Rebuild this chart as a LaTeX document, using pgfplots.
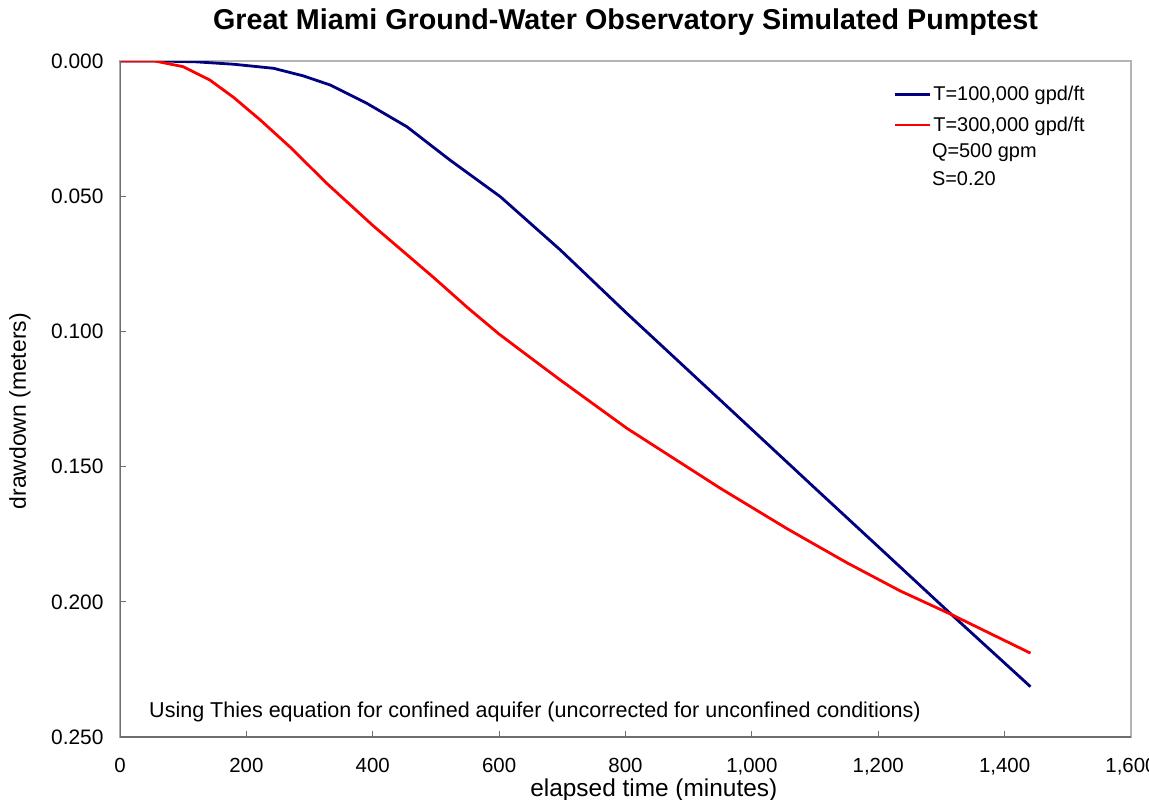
\documentclass[border=0pt]{standalone}
\usepackage{pgfplots}
\pgfplotsset{compat=1.18}
\usepackage{fontspec}
\setmainfont{Liberation Sans}
\definecolor{navyline}{RGB}{0,0,128}
\definecolor{redline}{RGB}{255,0,0}
\definecolor{boxgray}{RGB}{180,180,180}
\definecolor{axgray}{RGB}{110,110,110}
\begin{document}
\begin{tikzpicture}
\begin{axis}[name=ax, scale only axis, width=1011bp, height=676bp,
  xmin=0, xmax=1600, ymin=0, ymax=0.25, y dir=reverse,
  xtick={0,200,400,600,800,1000,1200,1400,1600},
  ytick={0,0.05,0.1,0.15,0.2,0.25},
  /pgf/number format/assume math mode=true,
  xticklabel style={/pgf/number format/1000 sep={,}, font=\fontsize{20.5}{23}\selectfont, yshift=-18bp},
  yticklabel style={/pgf/number format/fixed, /pgf/number format/fixed zerofill, /pgf/number format/precision=3, font=\fontsize{21}{24}\selectfont, xshift=-13bp},
  scaled y ticks=false,
  tick align=inside, xtick pos=bottom, ytick pos=left,
  major tick length=6bp,
  tick style={axgray, line width=1bp},
  axis line style={boxgray, line width=1.5bp},
  title={Great Miami Ground-Water Observatory Simulated Pumptest},
  title style={font=\bfseries\fontsize{28.8}{32}\selectfont, at={(axis description cs:0.5,1)}, anchor=center, yshift=33bp},
  xlabel={elapsed time (minutes)},
  xlabel style={font=\fontsize{24.5}{27}\selectfont, at={(axis description cs:0.528,0)}, anchor=center, yshift=-53bp},
  ylabel={drawdown (meters)},
  ylabel style={font=\fontsize{23}{26}\selectfont, at={(axis description cs:-0.099,0.482)}, anchor=center},
  legend style={draw=none, fill=none, at={(axis description cs:0.765,0.966)}, anchor=north west, font=\fontsize{20}{23}\selectfont, row sep=11bp, inner sep=0pt},
  legend cell align=left,
  legend image code/.code={\draw[#1] (0bp,0bp) -- (35bp,0bp);},
]
\addplot[navyline, line width=2.8bp] coordinates {
(0,0) (60,0) (120,0.0003) (180,0.0012) (243,0.0027) (290,0.0055) (333,0.0089) (391,0.0157) (454,0.0243) (522,0.0366) (602,0.0502) (697,0.0699) (802,0.0933) (950,0.1254) (1100,0.158) (1200,0.1796) (1314,0.2043) (1441,0.2314)
};
\addlegendentry{T=100,000 gpd/ft}
\addplot[redline, line width=2.8bp] coordinates {
(0,0) (55,0) (100,0.0021) (142,0.0070) (180,0.0135) (222,0.0218) (270,0.032) (327,0.0452) (400,0.0608) (496,0.0800) (550,0.0912) (600,0.1010) (650,0.1098) (697,0.1180) (802,0.1358) (950,0.158) (1056,0.1730) (1150,0.1855) (1235,0.1960) (1314,0.2045) (1441,0.219)
};
\addlegendentry{T=300,000 gpd/ft}
\draw[axgray, line width=2bp] (axis description cs:0,1) -- (axis description cs:0,0) -- (axis description cs:1,0);
\node[anchor=west, inner sep=0pt, font=\fontsize{20}{23}\selectfont] at (axis description cs:0.803,0.865) {Q=500 gpm};
\node[anchor=west, inner sep=0pt, font=\fontsize{20}{23}\selectfont] at (axis description cs:0.803,0.826) {S=0.20};
\node[anchor=west, inner sep=0pt, font=\fontsize{21.6}{24}\selectfont] at (axis description cs:0.0287,0.037) {Using Thies equation for confined aquifer (uncorrected for unconfined conditions)};
\end{axis}
\pgfresetboundingbox
\path[use as bounding box] ([xshift=-120bp,yshift=-63bp]ax.south west) rectangle ([xshift=1029bp,yshift=737bp]ax.south west);
\end{tikzpicture}
\end{document}
